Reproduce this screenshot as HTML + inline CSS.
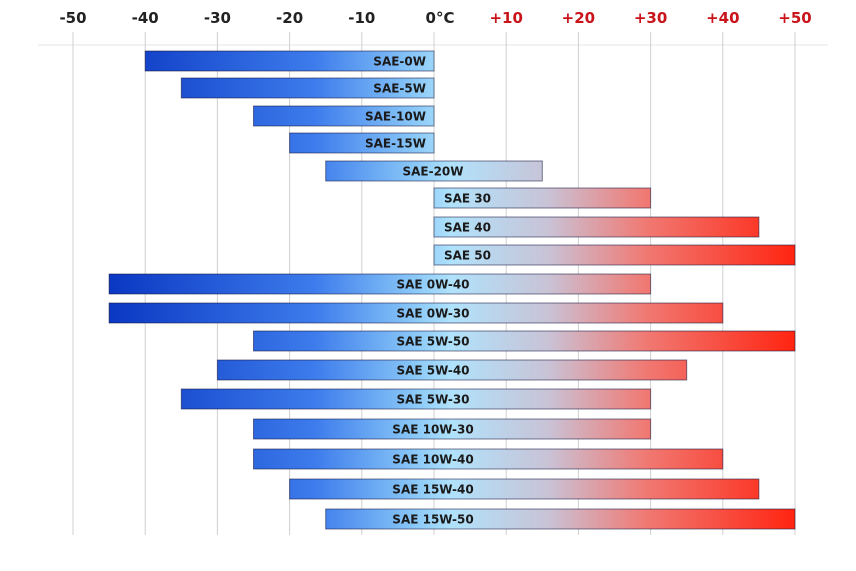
<!DOCTYPE html>
<html><head><meta charset="utf-8"><style>
body{margin:0;background:#fff;}
svg{display:block;font-family:"DejaVu Sans","Liberation Sans",sans-serif;}
</style></head><body>
<svg id="chart" width="856" height="571">
<defs>
<linearGradient id="grad" gradientUnits="userSpaceOnUse" x1="109" y1="0" x2="795" y2="0">
<stop offset="0" stop-color="#0a37c2"/>
<stop offset="0.3" stop-color="#3d7cec"/>
<stop offset="0.45" stop-color="#8ccaf8"/>
<stop offset="0.5" stop-color="#b0e2fb"/>
<stop offset="0.64" stop-color="#c9c3d6"/>
<stop offset="0.78" stop-color="#f07a74"/>
<stop offset="1" stop-color="#ff2410"/>
</linearGradient>
</defs>
<g id="grid"></g>
<g id="bars"></g>
</svg>
<script>
const ticks=[-50,-40,-30,-20,-10,0,10,20,30,40,50];
const tickLabels=["-50","-40","-30","-20","-10","0°C","+10","+20","+30","+40","+50"];
const grades=["SAE-0W","SAE-5W","SAE-10W","SAE-15W","SAE-20W","SAE 30","SAE 40","SAE 50","SAE 0W-40","SAE 0W-30","SAE 5W-50","SAE 5W-40","SAE 5W-30","SAE 10W-30","SAE 10W-40","SAE 15W-40","SAE 15W-50"];
const lows=[-40,-35,-25,-20,-15,0,0,0,-45,-45,-25,-30,-35,-25,-25,-20,-15];
const highs=[0,0,0,0,15,30,45,50,30,40,50,35,30,30,40,45,50];
const rowY=[61,88,116,143,171,198,227,255,284,313,341,370,399,429,459,489,519];
const NS="http://www.w3.org/2000/svg";
const x=v=>434+v*7.22;
const grid=document.getElementById('grid'),bars=document.getElementById('bars');
function mk(tag,attrs,parent){const e=document.createElementNS(NS,tag);for(const k in attrs)e.setAttribute(k,attrs[k]);parent.appendChild(e);return e;}
const hl=mk('line',{x1:38,x2:828,y1:45,y2:45,stroke:'#e6e6e6','stroke-width':1},grid);


ticks.forEach((t,i)=>{
  const l=mk('line',{x1:x(t),x2:x(t),y1:32,y2:535,stroke:'#d0d0d0','stroke-width':1},grid);
  
  
  const tx=mk('text',{x:x(t)+(t===0?6:0),y:23,'text-anchor':'middle','font-size':15,'font-weight':'bold',fill:t>0?'#c8141a':'#222'},grid);
  tx.textContent=tickLabels[i];
  
  
});
grades.forEach((g,i)=>{
  const lo=lows[i],hi=highs[i],cy=rowY[i];
  const r=mk('rect',{x:x(lo),y:cy-10,width:x(hi)-x(lo),height:20,fill:'url(#grad)',stroke:'rgba(20,20,60,0.55)','stroke-width':1},bars);
  
  
  let tx,anchor;
  if(hi<=0){tx=x(hi)-8;anchor='end';}
  else if(lo>=0){tx=x(lo)+10;anchor='start';}
  else{tx=x(0)-1;anchor='middle';}
  const t=mk('text',{x:tx,y:cy+4.5,'text-anchor':anchor,'font-size':12,'font-weight':'bold',fill:'#1a1a1a'},bars);
  t.textContent=g;
  
  
});
</script>
</body></html>
